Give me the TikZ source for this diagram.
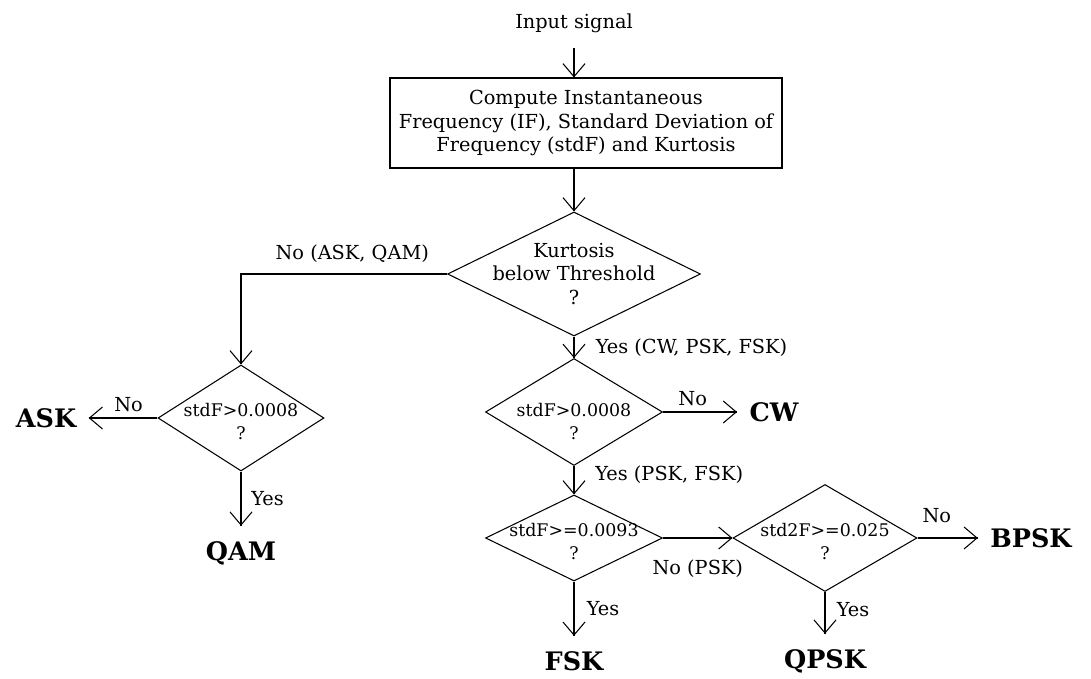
\documentclass[tikz,border=0pt]{standalone}
\usepackage{fontspec}
\setmainfont{DejaVu Serif}
\usetikzlibrary{arrows.meta,decorations.markings,shapes.geometric,positioning}
\tikzstyle{process} = [rectangle, draw=black, minimum width=78.4mm, minimum height=18mm, align=center, font=\fontsize{11}{13.5}\selectfont]
\tikzstyle{decision} = [diamond, draw=black, inner xsep=0pt, inner ysep=-8pt, shape aspect=2, align=center, text height=24.2pt, font=\fontsize{9.9}{13}\selectfont]
\tikzstyle{result} = [inner xsep=2.4mm, inner ysep=3mm, font=\fontsize{14.5}{18}\selectfont\bfseries]
\tikzstyle{branch} = [font=\fontsize{11}{13}\selectfont]
\begin{document}
\begin{tikzpicture}[node distance=15mm, line width=0.6pt]
    \tikzset{vptr/.style={decoration={markings,mark=at position 1 with %
    {\arrow{Straight Barb[length=2.6mm,width=4.4mm]}}},postaction={decorate}}}
\useasboundingbox (0,0) rectangle (218.2mm,-135.8mm);
\node (input) [branch, inner ysep=2.9mm] at (114.8mm,-4.6mm) {Input signal};
\node (compute) [process, below of=input, xshift=2.4mm, yshift=-5mm] {Compute Instantaneous\\Frequency (IF), Standard Deviation of\\Frequency (stdF) and Kurtosis};
\node (kurt) [decision, below of=compute, xshift=-2.4mm, yshift=-15.2mm, minimum width=50.6mm, minimum height=24.8mm, inner sep=-5pt, text height=, font=\fontsize{11}{13.6}\selectfont] {Kurtosis\\below Threshold\\?};

\node (cwdec) [decision, below of=kurt, yshift=-12.6mm, minimum width=35.4mm, minimum height=21.4mm, text height=31pt] {stdF>0.0008\\?};
\node (fskdec) [decision, below of=cwdec, yshift=-10.2mm, minimum width=35.4mm, minimum height=17.2mm] {stdF>=0.0093\\?};
\node (pskdec) [decision, right of=fskdec, xshift=35.2mm, minimum width=36.8mm, minimum height=21.4mm] {std2F>=0.025\\?};
\node (lowdec) [decision, left of=cwdec, xshift=-51.6mm, yshift=-1.2mm, minimum width=33.2mm, minimum height=21.2mm] {stdF>0.0008\\?};

\node (ask) [result, left of=lowdec, xshift=-24mm] {ASK};
\node (qam) [result, below of=lowdec, yshift=-12mm] {QAM};
\node (cw) [result, right of=cwdec, xshift=25mm] {CW};
\node (fsk) [result, below of=fskdec, yshift=-9.6mm] {FSK};
\node (qpsk) [result, below of=pskdec, yshift=-9.6mm] {QPSK};
\node (bpsk) [result, right of=pskdec, xshift=26.2mm] {BPSK};

\draw [vptr] (input) -- (input |- compute.north);
\draw [vptr] (kurt.north |- compute.south) -- (kurt.north);
\draw [vptr] (kurt.west) -| node[branch, anchor=south, pos=0.23, yshift=1mm] {No (ASK, QAM)} (lowdec.north);
\draw [vptr] (kurt.south) -- node[branch, anchor=west, xshift=3.1mm] {Yes (CW, PSK, FSK)} (cwdec.north);

\draw [vptr] (lowdec.west) -- node[branch, anchor=south, pos=0.42] {No} (ask.east);
\draw [vptr] (lowdec.south) -- node[branch, anchor=west, xshift=0.8mm] {Yes} (qam.north);
\draw [vptr] (cwdec.east) -- node[branch, anchor=south, pos=0.4] {No} (cw.west);
\draw [vptr] (cwdec.south) -- node[branch, anchor=west, xshift=3mm, yshift=1.1mm] {Yes (PSK, FSK)} (fskdec.north);

\draw [vptr] (fskdec.east) -- node[branch, anchor=north, yshift=-3.1mm] {No (PSK)} (pskdec.west);
\draw [vptr] (fskdec.south) -- node[branch, anchor=west, xshift=1.3mm] {Yes} (fsk.north);
\draw [vptr] (pskdec.east) -- node[branch, anchor=south, pos=0.32, yshift=1.7mm] {No} (bpsk.west);
\draw [vptr] (pskdec.south) -- node[branch, anchor=west, xshift=1.1mm, yshift=0.7mm] {Yes} (qpsk.north);
\end{tikzpicture}
\end{document}
